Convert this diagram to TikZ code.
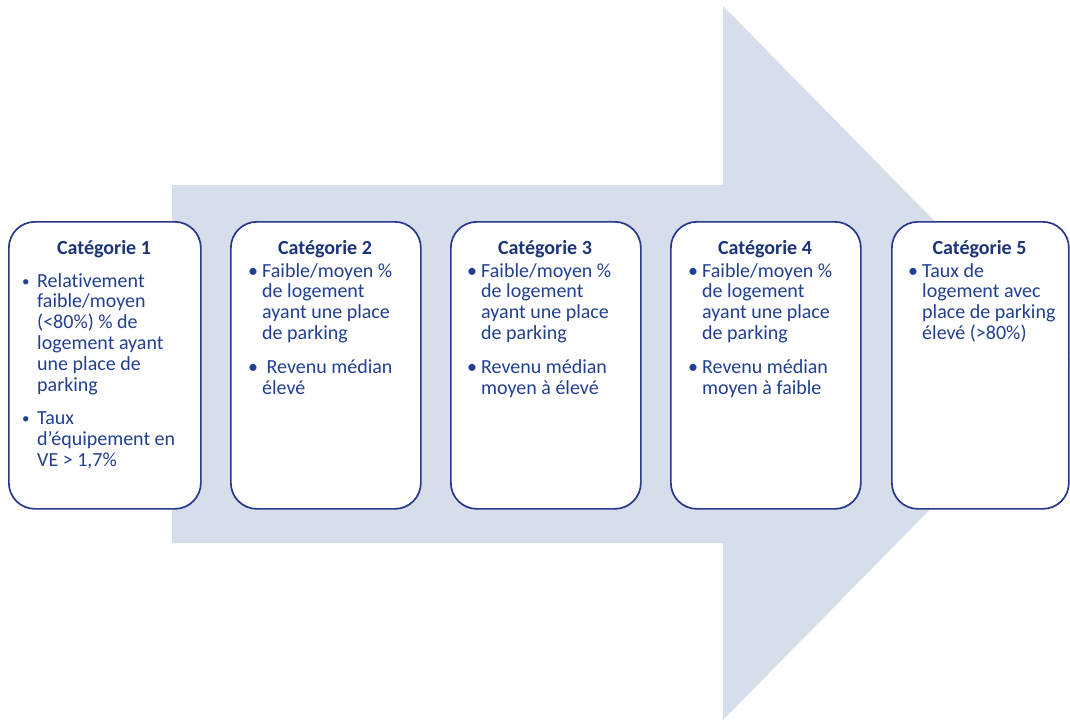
\documentclass[tikz,border=0pt]{standalone}
\usepackage{fontspec}
\setmainfont[Ligatures={NoCommon,NoContextual}]{Carlito}

\definecolor{arrowfill}{RGB}{214,222,236}
\definecolor{boxline}{RGB}{40,56,140}
\definecolor{titleblue}{RGB}{28,52,120}
\definecolor{bodyblue}{RGB}{34,64,145}

% bullet followed by a fixed gap before the item text
\newcommand{\bulitem}[1]{\makebox[#1][l]{\textbullet}}
\newcommand{\bulsmall}{\makebox[15pt][l]{\raisebox{1pt}{\fontsize{15}{15}\selectfont\textbullet}}}

\tikzset{
  x=1pt, y=-1pt,
  arrowbody/.style={fill=arrowfill, draw=none},
  catbox/.style={draw=boxline, line width=1.7pt, fill=white, rounded corners=26pt,
                 inner sep=0pt, anchor=north west, minimum height=287pt},
  cattitle/.style={text=titleblue, font=\fontsize{20}{20.8}\selectfont\bfseries,
                   anchor=base, inner sep=0pt},
  catbody/.style={text=bodyblue, font=\fontsize{20}{20.8}\selectfont,
                  anchor=base west, inner sep=0pt, align=left},
}

\begin{document}
\begin{tikzpicture}
\useasboundingbox (0,0) rectangle (1070,720);

% broad background arrow
\fill[arrowbody] (172,185) -- (723,185) -- (723,6) -- (1074,363)
  -- (723,720) -- (723,543) -- (172,543) -- cycle;

% category boxes
\node[catbox, minimum width=192pt] (c1) at (8,221) {};
\node[catbox, minimum width=190pt] (c2) at (230,221) {};
\node[catbox, minimum width=190pt] (c3) at (450,221) {};
\node[catbox, minimum width=190pt] (c4) at (670,221) {};
\node[catbox, minimum width=177pt] (c5) at (891,221) {};

% titles
\node[cattitle] (t1) at (104,254) {Catégorie 1};
\node[cattitle] (t2) at (325,254) {Catégorie 2};
\node[cattitle] (t3) at (545,254) {Catégorie 3};
\node[cattitle] (t4) at (765,254) {Catégorie 4};
\node[cattitle] (t5) at (979.5,254) {Catégorie 5};

% bullet lists
\node[catbody] (b1) at (22,287) {%
\begin{tabular}[t]{@{}l@{}l@{}}
\bulsmall & Relativement\\
 & faible/moyen\\
 & (<80\%) \% de\\
 & logement ayant\\
 & une place de\\
 & parking\\[13pt]
\bulsmall & Taux\\
 & d’équipement en\\
 & VE > 1,7\%
\end{tabular}};

\node[catbody] (b2) at (248,277) {%
\begin{tabular}[t]{@{}l@{}l@{}}
\bulitem{14pt} & Faible/moyen \%\\
 & de logement\\
 & ayant une place\\
 & de parking\\[13pt]
\bulitem{14pt} & \hspace*{4.5pt}Revenu médian\\
 & élevé
\end{tabular}};

\node[catbody] (b3) at (467,277) {%
\begin{tabular}[t]{@{}l@{}l@{}}
\bulitem{14pt} & Faible/moyen \%\\
 & de logement\\
 & ayant une place\\
 & de parking\\[13pt]
\bulitem{14pt} & Revenu médian\\
 & moyen à élevé
\end{tabular}};

\node[catbody] (b4) at (688,277) {%
\begin{tabular}[t]{@{}l@{}l@{}}
\bulitem{14pt} & Faible/moyen \%\\
 & de logement\\
 & ayant une place\\
 & de parking\\[13pt]
\bulitem{14pt} & Revenu médian\\
 & moyen à faible
\end{tabular}};

\node[catbody] (b5) at (908,277) {%
\begin{tabular}[t]{@{}l@{}l@{}}
\bulitem{14pt} & Taux de\\
 & logement avec\\
 & place de parking\\
 & élevé (>80\%)
\end{tabular}};
\end{tikzpicture}
\end{document}
